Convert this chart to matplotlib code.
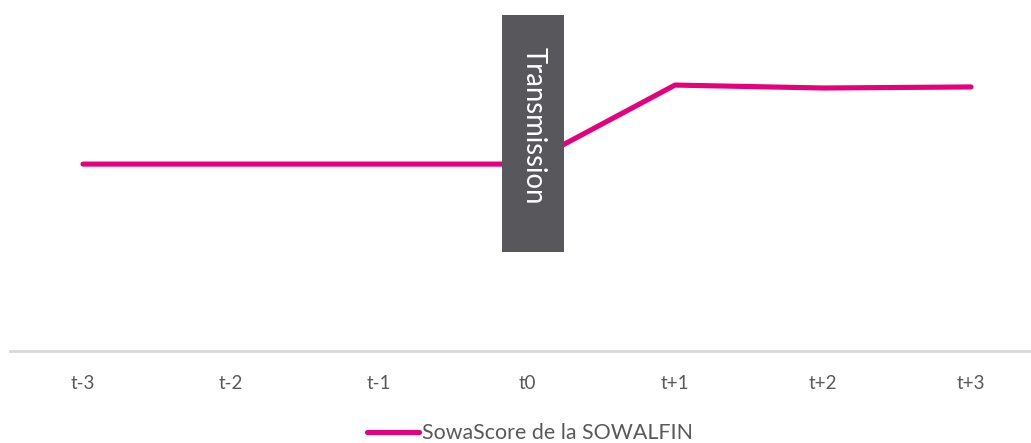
import matplotlib
matplotlib.use("Agg")
import matplotlib.pyplot as plt
from matplotlib.patches import Rectangle
from matplotlib.lines import Line2D

categories = ["t-3", "t-2", "t-1", "t0", "t+1", "t+2", "t+3"]
sowascore = [70.0, 70.0, 70.0, 70.0, 99.6, 98.5, 98.9]
series_name = "SowaScore de la SOWALFIN"
band_label = "Transmission"

plt.rcParams['font.family'] = ['Lato', 'DejaVu Sans']

W, H = 1031, 443
fig = plt.figure(figsize=(W / 100, H / 100), dpi=100)
ax = fig.add_axes([10 / W, (H - 351) / H, (W - 10) / W, 351 / H])

x = list(range(len(categories)))
line_color = "#E6007E"
ax.plot(x, sowascore, color=line_color, lw=3.7, solid_capstyle="round",
        solid_joinstyle="round", zorder=2)

ax.set_xlim(-73 / 148, 6 + 60 / 148)
ax.set_ylim(0, 351 / 267 * 100)

t0 = categories.index("t0")
rect = Rectangle((t0 - 25 / 148, 37.1), 62 / 148, 125.8 - 37.1,
                 facecolor="#58575C", edgecolor="none", zorder=3)
ax.add_patch(rect)
ax.text(t0 + 7 / 148, (37.1 + 125.8) / 2 + 3, band_label, rotation=-90,
        ha="center", va="center", color="white", fontsize=19.8, zorder=4)

for s in ["top", "right", "left"]:
    ax.spines[s].set_visible(False)
ax.spines["bottom"].set_color("#D9D9D9")
ax.spines["bottom"].set_linewidth(2)
ax.set_yticks([])
ax.set_xticks(x)
ax.set_xticklabels(categories, color="#595959", fontsize=13.5)
ax.tick_params(axis="x", length=0, pad=17)

handle = Line2D([], [], color=line_color, lw=3.7, solid_capstyle="round")
fig.legend([handle], [series_name], loc="center", bbox_to_anchor=(530 / W, 1 - 433 / H),
           frameon=False, fontsize=15.4, handlelength=2.45, handletextpad=0.15,
           labelcolor="#595959")

fig.savefig("out.png", dpi=100)
